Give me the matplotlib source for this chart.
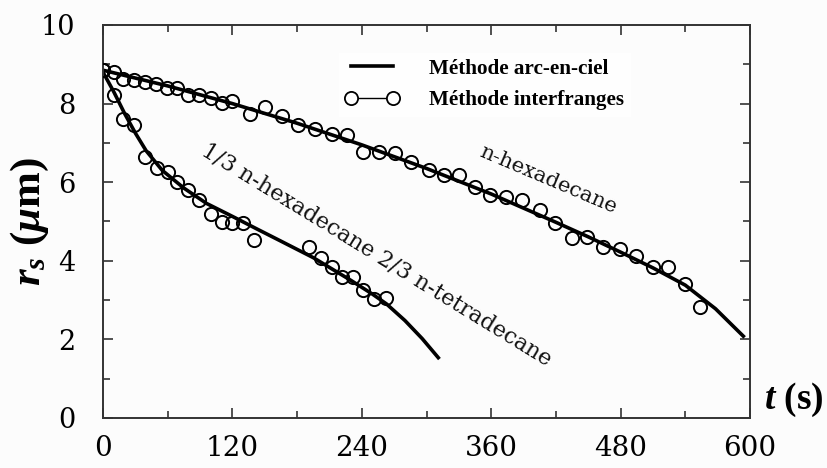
import matplotlib
matplotlib.use("Agg")
import matplotlib.pyplot as plt
from matplotlib.lines import Line2D
from matplotlib.ticker import MultipleLocator

# ---- data ----
hex_t = [0, 10, 19, 29, 39, 49, 59, 69, 79, 89, 100, 110, 120, 136, 150, 166, 181, 197,
         212, 226, 241, 256, 271, 286, 302, 316, 330, 345, 359, 374, 389, 405, 419,
         435, 449, 464, 479, 494, 510, 524, 540, 554]
hex_r = [8.85, 8.81, 8.63, 8.60, 8.56, 8.50, 8.39, 8.39, 8.22, 8.22, 8.13, 8.01, 8.07,
         7.74, 7.92, 7.68, 7.46, 7.35, 7.22, 7.20, 6.78, 6.78, 6.75, 6.52, 6.31, 6.18,
         6.18, 5.89, 5.67, 5.63, 5.55, 5.29, 4.97, 4.57, 4.60, 4.36, 4.30, 4.12, 3.85,
         3.83, 3.40, 2.83]
hex_line_t = [0, 60, 120, 180, 240, 300, 360, 420, 450, 480, 510, 540, 568, 595]
hex_line_r = [8.85, 8.45, 8.0, 7.5, 6.95, 6.35, 5.7, 4.98, 4.61, 4.22, 3.82, 3.38, 2.78, 2.05]

mix_t = [0, 10, 19, 29, 39, 50, 60, 69, 79, 89, 100, 110, 120, 130, 140,
         191, 202, 212, 222, 232, 241, 251, 262]
mix_r = [8.85, 8.22, 7.60, 7.46, 6.65, 6.37, 6.27, 6.01, 5.80, 5.55, 5.19, 4.98, 4.96,
         4.95, 4.52, 4.36, 4.06, 3.83, 3.60, 3.58, 3.26, 3.02, 3.05]
mix_line_t = [0, 10, 20, 30, 40, 55, 75, 96, 120, 142, 165, 195, 230, 250, 263, 280,
              296, 312]
mix_line_r = [8.8, 8.3, 7.75, 7.25, 6.8, 6.3, 5.85, 5.46, 5.13, 4.82, 4.5, 4.08, 3.5,
              3.15, 2.9, 2.48, 2.02, 1.5]

x_ticks = [0, 120, 240, 360, 480, 600]
y_ticks = [0, 2, 4, 6, 8, 10]
legend_labels = ["Méthode arc-en-ciel", "Méthode interfranges"]
label_hex = "n-hexadecane"
label_mix = "1/3 n-hexadecane 2/3 n-tetradecane"

# ---- style ----
plt.rcParams['mathtext.fontset'] = 'custom'
plt.rcParams['mathtext.it'] = 'Liberation Serif:italic:bold'
plt.rcParams['mathtext.rm'] = 'Liberation Serif:bold'
plt.rcParams['mathtext.bf'] = 'Liberation Serif:bold'

fig = plt.figure(figsize=(8.27, 4.68), dpi=100, facecolor='#fcfcfc')
ax = fig.add_axes([103/827, 1-418/468, 647/827, 393/468])
ax.set_facecolor('#fcfcfc')

lw_thick = 2.6
ms = 9.5
ax.plot(hex_line_t, hex_line_r, color='black', lw=lw_thick, zorder=2, solid_capstyle='butt')
ax.plot(mix_line_t, mix_line_r, color='black', lw=lw_thick, zorder=2, solid_capstyle='butt')
ax.plot(hex_t, hex_r, ls='none', marker='o', ms=ms, mfc='none', mec='black', mew=1.4, zorder=3)
ax.plot(mix_t, mix_r, ls='none', marker='o', ms=ms, mfc='none', mec='black', mew=1.4, zorder=3)

ax.set_xlim(0, 600)
ax.set_ylim(0, 10)
ax.set_xticks(x_ticks)
ax.set_yticks(y_ticks)
ax.xaxis.set_minor_locator(MultipleLocator(60))
ax.yaxis.set_minor_locator(MultipleLocator(1))
ax.tick_params(which='both', direction='in', top=True, right=True, color='#333333', width=1.2)
ax.tick_params(which='major', length=7)
ax.tick_params(which='minor', length=5)
ax.tick_params(axis='x', which='major', pad=12)
ax.tick_params(axis='y', which='major', pad=20)
for lab in ax.get_xticklabels():
    lab.set_fontfamily('DejaVu Serif')
    lab.set_fontsize(20)
for lab in ax.get_yticklabels():
    lab.set_fontfamily('DejaVu Serif')
    lab.set_fontsize(19.5)
for s in ax.spines.values():
    s.set_linewidth(1.4)
    s.set_color('#333333')

# annotations
ax.text((548-103)/647*600, (418-180)/39.3, label_hex, rotation=-23,
        rotation_mode='anchor', ha='center', va='center', fontfamily='DejaVu Serif',
        fontsize=15.2, color='#111111')
ax.text((377-103)/647*600, (418-255)/39.3, label_mix, rotation=-31.5,
        rotation_mode='anchor', ha='center', va='center', fontfamily='DejaVu Serif',
        fontsize=16, color='#111111')

# legend
handles = [Line2D([], [], color='black', lw=lw_thick),
           Line2D([], [], color='black', lw=1.0, marker='o', ms=ms, mfc='white',
                  mec='black', mew=1.3)]
leg = ax.legend(handles, legend_labels, loc='upper left',
                bbox_to_anchor=((328-103)/647, (418-42)/393), numpoints=2,
                handlelength=2.6, handletextpad=1.4, labelspacing=0.55,
                borderpad=0.3, frameon=True, fancybox=False,
                prop={'family': 'Liberation Serif', 'weight': 'bold', 'size': 15.2})
leg.get_frame().set_facecolor('white')
leg.get_frame().set_edgecolor('none')

# axis labels
fig.text(30/827, 1-222/468, r'$r_s$ ($\mu$m)', rotation=90, ha='center', va='center',
         fontfamily='Liberation Serif', fontweight='bold', fontsize=31)
fig.text(794/827, 1-400/468, r'$t$ (s)', ha='center', va='center',
         fontfamily='Liberation Serif', fontweight='bold', fontsize=27)

fig.savefig('out.png', dpi=100, facecolor=fig.get_facecolor())
